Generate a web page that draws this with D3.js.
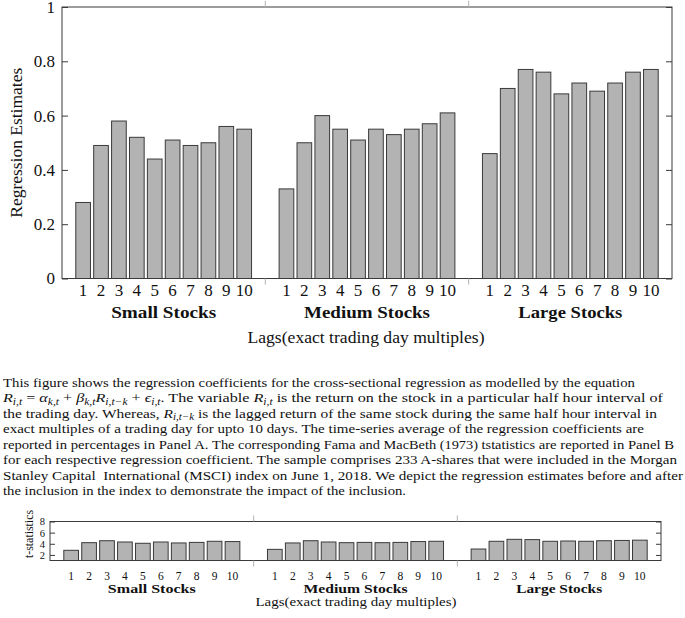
<!DOCTYPE html>
<html>
<head>
<meta charset="utf-8">
<script src="https://cdn.jsdelivr.net/npm/d3@7"></script>
<style>
  html, body { margin: 0; padding: 0; background: #ffffff; }
  svg { display: block; }
  svg text { font-family: 'Liberation Serif', 'DejaVu Serif', serif; }
</style>
</head>
<body>
<script>
// ---------------- data ----------------
const groups = ["Small Stocks", "Medium Stocks", "Large Stocks"];
const lags = ["1", "2", "3", "4", "5", "6", "7", "8", "9", "10"];

const estSmall  = [0.28, 0.49, 0.58, 0.52, 0.44, 0.51, 0.49, 0.50, 0.56, 0.55];
const estMedium = [0.33, 0.50, 0.60, 0.55, 0.51, 0.55, 0.53, 0.55, 0.57, 0.61];
const estLarge  = [0.46, 0.70, 0.77, 0.76, 0.68, 0.72, 0.69, 0.72, 0.76, 0.77];

const tSmall  = [2.83, 4.20, 4.55, 4.32, 4.09, 4.32, 4.15, 4.25, 4.45, 4.40];
const tMedium = [3.00, 4.15, 4.55, 4.32, 4.20, 4.25, 4.20, 4.25, 4.40, 4.45];
const tLarge  = [3.06, 4.45, 4.80, 4.75, 4.45, 4.50, 4.45, 4.55, 4.60, 4.65];

const estTicks = [0, 0.2, 0.4, 0.6, 0.8, 1];
const estTickLabels = ["0", "0.2", "0.4", "0.6", "0.8", "1"];
const tTicks = [2, 4, 6, 8];

const xTitle = "Lags(exact trading day multiples)";
const estTitle = "Regression Estimates";
const tTitle = "t-statistics";

// ---------------- setup ----------------
const W = 685, H = 618;
const SERIF = "'Liberation Serif', 'DejaVu Serif', serif";
const svg = d3.select("body").append("svg").attr("width", W).attr("height", H);

const BAR_FILL = "#b3b3b3", BAR_STROKE = "#3a3a3a", FRAME = "#3a3a3a", SEP = "#b0b0b0";

function panel(cfg) {
  const g = svg.append("g");
  const gx = d3.scaleBand().domain(groups).range([cfg.left, cfg.right]).padding(0);
  const bx = d3.scaleBand().domain(lags).range([0, gx.bandwidth()])
    .paddingInner(0.18).paddingOuter(0.77);
  const y = d3.scaleLinear().domain(cfg.domain).range([cfg.bottom, cfg.top]);

  const series = cfg.series;
  groups.forEach((grp, gi) => {
    const gg = g.append("g").attr("transform", `translate(${gx(grp)},0)`);
    gg.selectAll("rect").data(series[gi]).join("rect")
      .attr("x", (d, i) => bx(lags[i]))
      .attr("width", bx.bandwidth())
      .attr("y", d => y(d))
      .attr("height", d => y(cfg.domain[0]) - y(d))
      .attr("fill", BAR_FILL).attr("stroke", BAR_STROKE).attr("stroke-width", 1);

    // lag tick labels
    const ax = gg.append("g").attr("transform", `translate(0,${cfg.bottom})`)
      .call(d3.axisBottom(bx).tickSize(0).tickPadding(cfg.xPad));
    ax.select(".domain").remove();
    ax.selectAll("text").attr("font-size", cfg.xFont).style("font-family", SERIF).attr("fill", "#111");

    // group label
    g.append("text")
      .attr("x", gx(grp) + gx.bandwidth() / 2)
      .attr("y", cfg.groupY)
      .attr("text-anchor", "middle")
      .attr("font-weight", "bold")
      .attr("font-size", cfg.groupFont)
      .attr("textLength", cfg.groupLen[gi])
      .attr("lengthAdjust", "spacingAndGlyphs")
      .attr("fill", "#111")
      .text(grp);
  });

  // frame
  g.append("rect").attr("x", cfg.left).attr("y", cfg.top)
    .attr("width", cfg.right - cfg.left).attr("height", cfg.bottom - cfg.top)
    .attr("fill", "none").attr("stroke", FRAME).attr("stroke-width", 1);

  // group separators (outward ticks)
  groups.slice(1).forEach(grp => {
    const sx = gx(grp);
    g.append("line").attr("x1", sx).attr("x2", sx).attr("y1", cfg.top - 6).attr("y2", cfg.top)
      .attr("stroke", SEP).attr("stroke-width", 1);
    g.append("line").attr("x1", sx).attr("x2", sx).attr("y1", cfg.bottom).attr("y2", cfg.bottom + 6)
      .attr("stroke", SEP).attr("stroke-width", 1);
  });

  // left axis (inward ticks)
  const la = g.append("g").attr("transform", `translate(${cfg.left},0)`)
    .call(d3.axisLeft(y).tickValues(cfg.ticks).tickSize(-cfg.tickLen).tickPadding(cfg.yPad)
      .tickFormat((d, i) => cfg.tickLabels ? cfg.tickLabels[i] : d));
  la.select(".domain").remove();
  la.selectAll("line").attr("stroke", FRAME);
  la.selectAll("text").attr("font-size", cfg.yFont).style("font-family", SERIF).attr("fill", "#111");

  // right axis (inward ticks, no labels)
  const ra = g.append("g").attr("transform", `translate(${cfg.right},0)`)
    .call(d3.axisRight(y).tickValues(cfg.ticks).tickSize(-cfg.tickLen).tickFormat(""));
  ra.select(".domain").remove();
  ra.selectAll("line").attr("stroke", FRAME);

  // axis titles
  g.append("text")
    .attr("transform", `translate(${cfg.yTitleX},${(cfg.top + cfg.bottom) / 2 + cfg.yTitleDy}) rotate(-90)`)
    .attr("text-anchor", "middle").attr("dominant-baseline", "central")
    .attr("font-size", cfg.yTitleFont)
    .attr("textLength", cfg.yTitleLen).attr("lengthAdjust", "spacingAndGlyphs")
    .attr("fill", "#111")
    .text(cfg.yTitle);
  g.append("text")
    .attr("x", cfg.xTitleX).attr("y", cfg.xTitleY)
    .attr("text-anchor", "middle")
    .attr("font-size", cfg.xTitleFont)
    .attr("textLength", cfg.xTitleLen).attr("lengthAdjust", "spacingAndGlyphs")
    .attr("fill", "#111")
    .text(xTitle);
}

// top panel
panel({
  left: 62, right: 672, top: 7, bottom: 278.5, domain: [0, 1],
  series: [estSmall, estMedium, estLarge],
  ticks: estTicks, tickLabels: estTickLabels, tickLen: 6, yPad: 7, yFont: 17,
  xPad: 5.5, xFont: 17,
  groupY: 317.5, groupFont: 16.5, groupLen: [105, 126, 104],
  yTitle: estTitle, yTitleX: 16.5, yTitleDy: 0, yTitleFont: 17, yTitleLen: 150,
  xTitleX: 366, xTitleY: 343, xTitleFont: 17, xTitleLen: 237
});

// bottom panel
panel({
  left: 50, right: 661, top: 521.5, bottom: 560.5, domain: [1, 8],
  series: [tSmall, tMedium, tLarge],
  ticks: tTicks, tickLabels: null, tickLen: 5, yPad: 5, yFont: 10.5,
  xPad: 11, xFont: 11.5,
  groupY: 593, groupFont: 11.5, groupLen: [88, 104, 86],
  yTitle: tTitle, yTitleX: 28, yTitleDy: -7, yTitleFont: 13, yTitleLen: 48,
  xTitleX: 356, xTitleY: 606, xTitleFont: 12.5, xTitleLen: 201
});

// ---------------- caption ----------------
const captionLines = [
  { w: 632, segs: [["This figure shows the regression coefficients for the cross-sectional regression as modelled by the equation", "n"]] },
  { w: 660, segs: [["R", "i"], ["i,t", "s"], [" = ", "n"], ["α", "i"], ["k,t", "s"], [" + ", "n"], ["β", "i"], ["k,t", "s"], ["R", "i"], ["i,t−k", "s"], [" + ", "n"], ["ϵ", "i"], ["i,t", "s"], [". The variable ", "n"], ["R", "i"], ["i,t", "s"], [" is the return on the stock in a particular half hour interval of", "n"]] },
  { w: 654, segs: [["the trading day. Whereas, ", "n"], ["R", "i"], ["i,t−k", "s"], [" is the lagged return of the same stock during the same half hour interval in", "n"]] },
  { w: 641, segs: [["exact multiples of a trading day for upto 10 days. The time-series average of the regression coefficients are", "n"]] },
  { w: 671, segs: [["reported in percentages in Panel A. ", "n"], ["The corresponding Fama and MacBeth (1973) tstatistics", "t"], [" are reported in Panel B", "n"]] },
  { w: 674, segs: [["for each respective regression coefficient. The sample comprises 233 A-shares that were included in the Morgan", "n"]] },
  { w: 680, segs: [["Stanley Capital  International (MSCI) index on June 1, 2018. We depict the regression estimates before and after", "n"]] },
  { w: 403, segs: [["the inclusion in the index to demonstrate the impact of the inclusion.", "n"]] }
];

const cap = svg.append("g").attr("fill", "#111");
captionLines.forEach((ln, li) => {
  const t = cap.append("text")
    .attr("x", 3).attr("y", 387 + li * 15.45)
    .attr("font-size", 13.3)
    .attr("textLength", ln.w).attr("lengthAdjust", "spacingAndGlyphs")
    .attr("xml:space", "preserve");
  let shifted = false;
  ln.segs.forEach(([txt, kind]) => {
    const sp = t.append("tspan").text(txt);
    if (kind === "s") {
      sp.attr("font-size", 9.5).attr("font-style", "italic").attr("dy", shifted ? 0 : 2.5);
      shifted = true;
    } else {
      if (shifted) { sp.attr("dy", -2.5); shifted = false; }
      if (kind === "i") sp.attr("font-style", "italic");
      if (kind === "t") sp.attr("font-size", 13);
    }
  });
});
</script>
</body>
</html>
